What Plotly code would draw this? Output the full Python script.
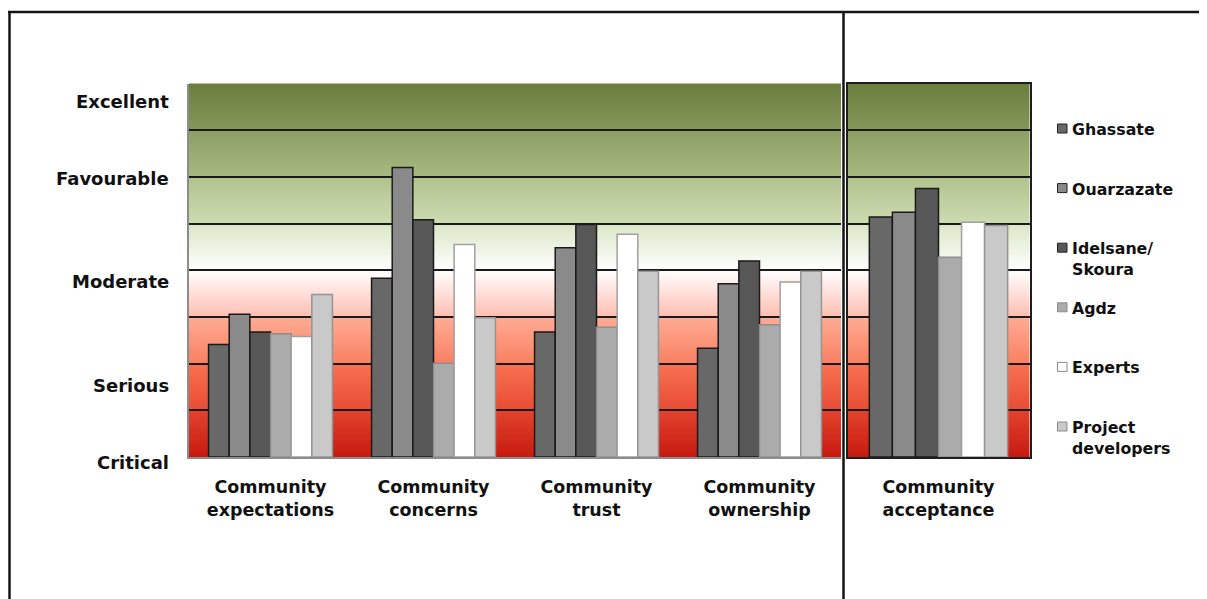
import base64
import struct
import zlib

import plotly.graph_objects as go

# ---------------- data ----------------
categories_left = ["Community<br>expectations", "Community<br>concerns",
                   "Community<br>trust", "Community<br>ownership"]
categories_right = ["Community<br>acceptance"]

series_names = ["Ghassate", "Ouarzazate", "Idelsane/<br>Skoura", "Agdz",
                "Experts", "Project<br>developers"]

# values: expectations, concerns, trust, ownership, acceptance  (scale 0..8)
ghassate = [2.41, 3.83, 2.68, 2.33, 5.14]
ouarzazate = [3.06, 6.20, 4.48, 3.71, 5.24]
idelsane_skoura = [2.68, 5.08, 4.98, 4.20, 5.75]
agdz = [2.64, 2.01, 2.78, 2.83, 4.28]
experts = [2.58, 4.55, 4.77, 3.75, 5.03]
project_developers = [3.48, 2.98, 3.98, 3.98, 4.96]

level_labels = ["Critical", "Serious", "Moderate", "Favourable", "Excellent"]
level_label_y = [-0.11, 1.54, 3.76, 5.96, 7.62]

# ---------------- styles / geometry ----------------
series_values = [ghassate, ouarzazate, idelsane_skoura, agdz, experts, project_developers]
bar_colors = ["#686868", "#8a8a8a", "#575757", "#ababab", "#ffffff", "#c9c9c9"]
bar_lines = ["#1a1a1a", "#1a1a1a", "#1a1a1a", "#8e8e8e", "#a0a0a0", "#959595"]

FONT = "DejaVu Sans, Verdana, sans-serif"
TXT = "#111111"

W, H = 1207, 599
OFF = 8                      # page body margin
FW, FH = W - OFF, H - OFF    # figure size


def px_x(p):
    return (p - OFF) / FW


def px_y(p):
    return (FH - (p - OFF)) / FH


y_dom = [px_y(457), px_y(83.5)]
x1_dom = [px_x(189), px_x(841)]
x2_dom = [px_x(847.5), px_x(1029.5)]
YMAX = 8.0

fig = go.Figure()

for name, vals, c, lc in zip(series_names, series_values, bar_colors, bar_lines):
    fig.add_trace(go.Bar(x=categories_left, y=vals[:4], name=name, xaxis="x", yaxis="y",
                         marker=dict(color=c, line=dict(color=lc, width=1.5)),
                         showlegend=False, hoverinfo="y"))
    fig.add_trace(go.Bar(x=categories_right, y=vals[4:], name=name, xaxis="x2", yaxis="y2",
                         marker=dict(color=c, line=dict(color=lc, width=1.5)),
                         showlegend=False, hoverinfo="y"))

# ---------------- background: one gradient per band, as an image ----------------
band_colors = [  # (bottom colour, top colour) for bands 0-1 ... 7-8
    ((200, 26, 16), (226, 68, 46)),
    ((232, 76, 52), (248, 114, 82)),
    ((248, 128, 96), (255, 172, 150)),
    ((255, 190, 178), (255, 255, 255)),
    ((255, 255, 255), (218, 230, 198)),
    ((206, 220, 178), (176, 194, 140)),
    ((168, 186, 128), (140, 158, 98)),
    ((134, 152, 90), (108, 126, 62)),
]


def grad(v):
    b = min(int(v), len(band_colors) - 1)
    t = v - b
    lo, hi = band_colors[b]
    return tuple(round(lo[k] + (hi[k] - lo[k]) * t) for k in range(3))


def gradient_png(n=800):
    raw = b""
    for r in range(n):
        v = YMAX * (1 - (r + 0.5) / n)
        raw += b"\x00" + bytes(grad(v)) * 2

    def chunk(tag, data):
        c = struct.pack(">I", len(data)) + tag + data
        return c + struct.pack(">I", zlib.crc32(tag + data) & 0xffffffff)

    png = b"\x89PNG\r\n\x1a\n"
    png += chunk(b"IHDR", struct.pack(">IIBBBBB", 2, n, 8, 2, 0, 0, 0))
    png += chunk(b"IDAT", zlib.compress(raw, 9))
    png += chunk(b"IEND", b"")
    return "data:image/png;base64," + base64.b64encode(png).decode()


bg_src = gradient_png()
images = []
for xr, yr in (("x domain", "y domain"), ("x2 domain", "y2 domain")):
    images.append(dict(source=bg_src, xref=xr, yref=yr, x=0, y=1, sizex=1, sizey=1,
                       xanchor="left", yanchor="top", sizing="stretch", layer="below"))

shapes = []
# frame lines
frame_col = "#141414"
shapes.append(dict(type="line", xref="paper", yref="paper", x0=px_x(8), x1=1.0,
                   y0=px_y(12), y1=px_y(12), line=dict(color=frame_col, width=2.5)))
shapes.append(dict(type="line", xref="paper", yref="paper", x0=px_x(9.5), x1=px_x(9.5),
                   y0=px_y(11), y1=0, line=dict(color=frame_col, width=2.5)))
shapes.append(dict(type="line", xref="paper", yref="paper", x0=px_x(843.5), x1=px_x(843.5),
                   y0=px_y(11), y1=0, line=dict(color=frame_col, width=2.5)))

# ---------------- manual legend ----------------
annotations = []
leg_top = 128.5
leg_step = 59.6
for i, (name, c, lc) in enumerate(zip(series_names, bar_colors, bar_lines)):
    cy = leg_top + i * leg_step
    shapes.append(dict(type="rect", xref="paper", yref="paper",
                       x0=px_x(1057.5), x1=px_x(1067), y0=px_y(cy + 4.5), y1=px_y(cy - 4.5),
                       fillcolor=c,
                       line=dict(color="#222222" if lc == "#1a1a1a" else "#8a8a8a", width=1)))
    annotations.append(dict(xref="paper", yref="paper", x=px_x(1069.5), y=px_y(cy - 10.5),
                            xanchor="left", yanchor="top", align="left", showarrow=False,
                            text=name,
                            font=dict(family=FONT, size=15.8, color=TXT, weight="bold")))

# level labels (placed in paper coordinates so the one below the range still shows)
for lab, yv in zip(level_labels, level_label_y):
    yp = y_dom[0] + yv / YMAX * (y_dom[1] - y_dom[0])
    annotations.append(dict(xref="paper", yref="paper", x=px_x(171), y=yp,
                            xanchor="right", yanchor="middle", showarrow=False,
                            text=lab,
                            font=dict(family=FONT, size=18, color=TXT, weight="bold")))

yaxis_common = dict(range=[0, YMAX], tick0=0, dtick=1, showgrid=True, gridcolor="#1a1a1a",
                    gridwidth=1.5, showticklabels=False, zeroline=False, ticks="",
                    domain=y_dom, fixedrange=True)
xfont = dict(family=FONT, size=17.5, color=TXT, weight="bold")

fig.update_layout(
    width=FW, height=FH,
    margin=dict(l=0, r=0, t=0, b=0),
    paper_bgcolor="white", plot_bgcolor="white",
    barmode="group", bargap=0.24, bargroupgap=0.0,
    showlegend=False,
    xaxis=dict(domain=x1_dom, anchor="y", type="category", showline=True,
               linecolor="#8c8c8c", linewidth=1.5, ticks="", tickfont=xfont,
               ticklabelstandoff=13, showgrid=False, fixedrange=True),
    yaxis=dict(anchor="x", showline=True, linecolor="#8c8c8c", linewidth=1.5, **yaxis_common),
    xaxis2=dict(domain=x2_dom, anchor="y2", type="category", showline=True, mirror=True,
                linecolor="#1e1e1e", linewidth=1.8, ticks="", tickfont=xfont,
                ticklabelstandoff=13, showgrid=False, fixedrange=True),
    yaxis2=dict(anchor="x2", showline=True, mirror=True, linecolor="#1e1e1e", linewidth=1.8,
                **yaxis_common),
    images=images,
    shapes=shapes,
    annotations=annotations,
)

fig.write_html("out.html")
